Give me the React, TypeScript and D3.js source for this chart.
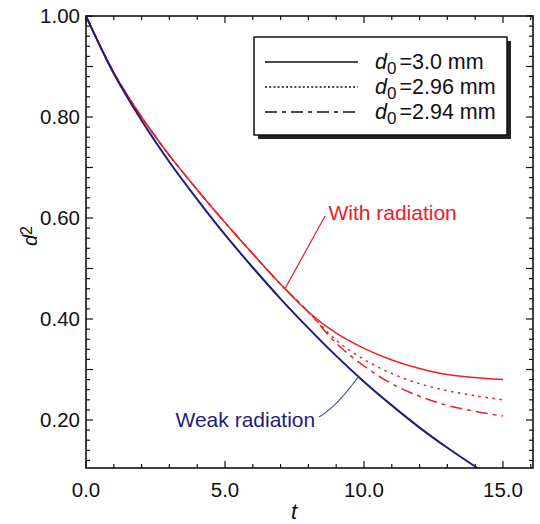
import { scaleLinear, line, curveCatmullRom, range } from 'd3'

const width = 540
const height = 524

// plot frame in pixels
const frame = { left: 86, top: 16, right: 533, bottom: 468 }

const tValues = [0, 1, 2, 3, 4, 5, 6, 7, 8, 9, 10, 11, 12, 13, 14, 15]
const weak = [1.0, 0.886, 0.793, 0.711, 0.637, 0.567, 0.502, 0.44, 0.382, 0.327, 0.276, 0.229, 0.185, 0.145, 0.108, 0.074]
const radD300 = [1.0, 0.888, 0.8, 0.724, 0.656, 0.591, 0.529, 0.469, 0.414, 0.372, 0.342, 0.319, 0.302, 0.29, 0.284, 0.28]
const radD296 = [1.0, 0.888, 0.8, 0.724, 0.656, 0.591, 0.529, 0.469, 0.414, 0.358, 0.32, 0.292, 0.272, 0.258, 0.248, 0.24]
const radD294 = [1.0, 0.888, 0.8, 0.724, 0.656, 0.591, 0.529, 0.469, 0.414, 0.352, 0.307, 0.272, 0.247, 0.229, 0.217, 0.208]

const legendLabels = ['=3.0 mm', '=2.96 mm', '=2.94 mm']
const xTickLabels = ['0.0', '5.0', '10.0', '15.0']
const yTickLabels = ['0.20', '0.40', '0.60', '0.80', '1.00']

const red = '#e3222b'
const navy = '#1d1d76'
const font = '"Liberation Sans", Arial, sans-serif'

function valueAt(ys: number[], t: number) {
  const i = Math.min(Math.floor(t), tValues.length - 2)
  const f = t - tValues[i]
  return ys[i] + (ys[i + 1] - ys[i]) * f
}

function App() {
  const x = scaleLinear().domain([0, 16.08]).range([frame.left, frame.right])
  const y = scaleLinear().domain([0.105, 1.0]).range([frame.bottom, frame.top])

  const path = (ys: number[]) =>
    line<number>()
      .x((_, i) => x(tValues[i]))
      .y(d => y(d))
      .curve(curveCatmullRom.alpha(0.5))(ys) as string

  const series = [
    { ys: radD300, dash: undefined, legendDash: undefined },
    { ys: radD296, dash: '2.5,4.5', legendDash: '2,2.2' },
    { ys: radD294, dash: '12,5,4,5', legendDash: '12,5,4,5' },
  ]

  const xMinor = range(0, 17, 1)
  const yMinor = range(0.12, 1.0001, 0.02)

  const withT = 7.16
  const weakT = 9.8

  return (
    <svg width={width} height={height} style={{ position: 'absolute', left: 0, top: 0, background: '#fff' }}>
      <defs>
        <clipPath id="plot">
          <rect x={frame.left} y={frame.top} width={frame.right - frame.left} height={frame.bottom - frame.top} />
        </clipPath>
      </defs>

      {/* ticks on all four sides, pointing in */}
      <g stroke="#111" strokeWidth={1.2}>
        {xMinor.map(t => {
          const len = t % 5 === 0 ? 7 : 4
          return (
            <g key={'xt' + t}>
              <line x1={x(t)} x2={x(t)} y1={frame.bottom} y2={frame.bottom - len} />
              <line x1={x(t)} x2={x(t)} y1={frame.top} y2={frame.top + len} />
            </g>
          )
        })}
        {yMinor.map(v => {
          const major = Math.abs(v * 10 - Math.round(v * 10)) < 1e-6
          const len = major ? 7 : 4
          return (
            <g key={'yt' + v.toFixed(2)}>
              <line x1={frame.left} x2={frame.left + len} y1={y(v)} y2={y(v)} />
              <line x1={frame.right} x2={frame.right - len} y1={y(v)} y2={y(v)} />
            </g>
          )
        })}
      </g>

      {/* tick labels */}
      <g fontFamily={font} fontSize={20.5} fill="#111">
        {xTickLabels.map(s => (
          <text key={s} x={x(+s)} y={497} textAnchor="middle">{s}</text>
        ))}
        {yTickLabels.map(s => (
          <text key={s} x={80} y={y(+s)} dy="0.36em" textAnchor="end">{s}</text>
        ))}
      </g>

      {/* axis titles */}
      <text x={294} y={519} fontFamily={font} fontSize={22} fontStyle="italic" textAnchor="middle" fill="#111">t</text>
      <text transform="translate(37,236) rotate(-90)" fontFamily={font} fontSize={20} textAnchor="middle" fill="#111">
        <tspan fontStyle="italic">d</tspan>
        <tspan fontSize={16} dy={-5}>2</tspan>
      </text>

      {/* curves */}
      <g clipPath="url(#plot)" fill="none">
        {series.map((s, i) => (
          <path key={i} d={path(s.ys)} stroke={red} strokeWidth={1.5} strokeDasharray={s.dash} />
        ))}
        <path d={path(weak)} stroke={navy} strokeWidth={2} />
      </g>

      {/* annotations */}
      <line x1={x(withT)} y1={y(valueAt(radD300, withT))} x2={x(8.6)} y2={y(0.604)} stroke={red} strokeWidth={1.2} />
      <text x={x(8.72)} y={y(0.597)} fontFamily={font} fontSize={21} fill={red}>With radiation</text>
      <path
        d={`M${x(8.38)},${y(0.206)} Q${x(9.0)},${y(0.225)} ${x(weakT)},${y(valueAt(weak, weakT))}`}
        fill="none" stroke="#3a4fa8" strokeWidth={1.2}
      />
      <text x={x(3.22)} y={y(0.187)} fontFamily={font} fontSize={21} fill={navy}>Weak radiation</text>

      {/* legend */}
      <g fontFamily={font} fill="#111">
        <rect x={258} y={41} width={253} height={98} fill="#222" />
        <rect x={254} y={37} width={253} height={98} fill="#fff" stroke="#111" strokeWidth={1.5} />
        {series.map((s, i) => {
          const ly = 62 + i * 25
          return (
            <g key={'lg' + i}>
              <line x1={265} x2={358} y1={ly} y2={ly} stroke="#111" strokeWidth={1.5} strokeDasharray={s.legendDash} />
              <text x={375} y={ly + 7} fontSize={21.5}>
                <tspan fontStyle="italic">d</tspan>
                <tspan fontSize={17} dy={5}>0</tspan>
                <tspan dy={-5} dx={3}>{legendLabels[i]}</tspan>
              </text>
            </g>
          )
        })}
      </g>

      {/* frame */}
      <rect x={frame.left} y={frame.top} width={frame.right - frame.left} height={frame.bottom - frame.top} fill="none" stroke="#111" strokeWidth={1.6} />
    </svg>
  )
}

export default App
